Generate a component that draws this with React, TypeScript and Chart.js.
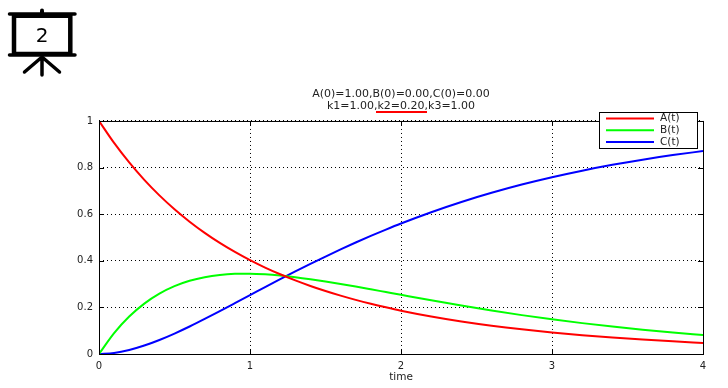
import React, { useEffect, useRef } from "react";
import { Chart, registerables } from "chart.js";

Chart.register(...registerables);

const FONT = "'DejaVu Sans', sans-serif";

const times = [0, 0.1, 0.2, 0.3, 0.4, 0.5, 0.6, 0.7, 0.8, 0.9, 1, 1.1, 1.2, 1.3, 1.4, 1.5, 1.6, 1.7, 1.8, 1.9, 2, 2.2, 2.4, 2.6, 2.8, 3, 3.2, 3.4, 3.6, 3.8, 4];
const seriesA = [1, 0.9057, 0.8219, 0.7473, 0.6807, 0.6212, 0.5679, 0.52, 0.4768, 0.438, 0.4029, 0.371, 0.3422, 0.316, 0.2921, 0.2704, 0.2504, 0.2322, 0.2155, 0.2002, 0.186, 0.1611, 0.1397, 0.1215, 0.1059, 0.0924, 0.0808, 0.0707, 0.0618, 0.0542, 0.0475];
const seriesB = [0, 0.0896, 0.1607, 0.2163, 0.259, 0.291, 0.314, 0.3296, 0.3392, 0.3439, 0.3447, 0.3421, 0.3369, 0.3298, 0.3211, 0.3113, 0.3006, 0.2894, 0.2777, 0.2658, 0.2539, 0.2303, 0.2077, 0.1866, 0.1668, 0.1489, 0.1325, 0.1176, 0.1042, 0.0922, 0.0815];
const seriesC = [0, 0.0047, 0.0174, 0.0364, 0.0603, 0.0878, 0.1181, 0.1504, 0.184, 0.2181, 0.2524, 0.2869, 0.3209, 0.3542, 0.3868, 0.4183, 0.449, 0.4784, 0.5068, 0.534, 0.5601, 0.6086, 0.6526, 0.6919, 0.7273, 0.7587, 0.7867, 0.8117, 0.834, 0.8536, 0.871];
const titleLines = ["A(0)=1.00,B(0)=0.00,C(0)=0.00", "k1=1.00,k2=0.20,k3=1.00"];
const seriesNames = ["A(t)", "B(t)", "C(t)"];
const seriesColors = ["#ff0000", "#00ff00", "#0000ff"];
const xTitle = "time";
const slideNumber = "2";

const frame = {
  id: "frame",
  afterDatasetsDraw(chart: any) {
    const { ctx, chartArea: a, scales } = chart;
    ctx.save();
    ctx.strokeStyle = "#000";
    ctx.lineWidth = 1;
    ctx.strokeRect(a.left + 0.5, a.top + 0.5, a.right - a.left, a.bottom - a.top);
    ctx.beginPath();
    scales.x.ticks.forEach((_: any, i: number) => {
      const x = Math.round(scales.x.getPixelForTick(i)) + 0.5;
      ctx.moveTo(x, a.top);
      ctx.lineTo(x, a.top + 5);
      ctx.moveTo(x, a.bottom);
      ctx.lineTo(x, a.bottom - 5);
    });
    scales.y.ticks.forEach((_: any, i: number) => {
      const y = Math.round(scales.y.getPixelForTick(i)) + 0.5;
      ctx.moveTo(a.left, y);
      ctx.lineTo(a.left + 5, y);
      ctx.moveTo(a.right, y);
      ctx.lineTo(a.right - 5, y);
    });
    ctx.stroke();

    // red underline beneath the k2 term of the title
    ctx.strokeStyle = "#ff0000";
    ctx.lineWidth = 2;
    ctx.beginPath();
    ctx.moveTo(376, 112);
    ctx.lineTo(427, 112);
    ctx.stroke();

    // legend box
    ctx.fillStyle = "#fff";
    ctx.fillRect(599, 112, 99, 36);
    ctx.strokeStyle = "#000";
    ctx.lineWidth = 1;
    ctx.strokeRect(599.5, 112.5, 98, 36);
    ctx.font = `10.5px ${FONT}`;
    ctx.textBaseline = "middle";
    ctx.textAlign = "left";
    chart.data.datasets.forEach((d: any, i: number) => {
      const y = 118.5 + i * 11.7;
      ctx.strokeStyle = d.borderColor;
      ctx.lineWidth = 2;
      ctx.beginPath();
      ctx.moveTo(606, y);
      ctx.lineTo(654, y);
      ctx.stroke();
      ctx.fillStyle = "#222";
      ctx.fillText(d.label, 660, y);
    });
    ctx.restore();
  },
};

export default function App() {
  const ref = useRef<HTMLCanvasElement>(null);
  useEffect(() => {
    document.body.style.margin = "0";
    const all = [seriesA, seriesB, seriesC];
    const chart = new Chart(ref.current!, {
      type: "line",
      data: {
        datasets: all.map((vals, i) => ({
          label: seriesNames[i],
          data: vals.map((v, j) => ({ x: times[j], y: v })),
          borderColor: seriesColors[i],
          borderWidth: 2,
          pointRadius: 0,
          cubicInterpolationMode: "monotone" as const,
          fill: false,
        })),
      },
      options: {
        animation: false,
        responsive: false,
        layout: { padding: { left: 0, right: 25, top: 0, bottom: 0 } },
        plugins: {
          legend: { display: false },
          tooltip: { enabled: false },
          title: {
            display: true,
            text: titleLines,
            color: "#222",
            fullSize: false,
            font: { family: FONT, size: 11, weight: "normal", lineHeight: 1.09 },
            padding: { top: 88, bottom: 9 },
          },
        },
        scales: {
          x: {
            type: "linear",
            min: 0,
            max: 4,
            afterFit(s: any) { s.height = 34; },
            ticks: { stepSize: 1, color: "#222", padding: 6, maxRotation: 0, font: { family: FONT, size: 10 } },
            grid: { color: "#000", drawTicks: false, tickLength: 0 },
            border: { display: false, dash: [1, 3] },
            title: { display: true, text: xTitle, color: "#222", padding: { top: 1, bottom: 4 }, font: { family: FONT, size: 10.5 } },
          },
          y: {
            min: 0,
            max: 1,
            afterFit(s: any) { s.width = 99; },
            ticks: {
              stepSize: 0.2,
              color: "#222",
              padding: 6,
              font: { family: FONT, size: 10 },
              callback: (v: any) => String(Number(Number(v).toFixed(1))),
            },
            grid: { color: "#000", drawTicks: false, tickLength: 0 },
            border: { display: false, dash: [1, 3] },
          },
        },
      },
      plugins: [frame],
    });
    return () => chart.destroy();
  }, []);
  return (
    <div style={{ position: "relative", width: 728, height: 388, background: "#fff" }}>
      <canvas ref={ref} width={728} height={388} style={{ display: "block" }} />
      <svg width={90} height={85} style={{ position: "absolute", left: 0, top: 0 }}>
        <g stroke="#000" strokeLinecap="round" fill="none">
          <path d="M42 10.5V14" strokeWidth={4} />
          <path d="M9.5 14H75" strokeWidth={3.5} />
          <path d="M14 14V55M70.3 14V55" strokeWidth={4.5} strokeLinecap="butt" />
          <path d="M14 16.5H70" strokeWidth={3} strokeLinecap="butt" />
          <path d="M14 53H70" strokeWidth={2.5} strokeLinecap="butt" />
          <path d="M9.5 55H75" strokeWidth={3.5} />
          <path d="M42 57V75M42 57L24.5 72M42 57L59.5 72" strokeWidth={3.5} />
        </g>
        <text x={42} y={42} textAnchor="middle" fontFamily="'DejaVu Sans', sans-serif" fontSize={20} fill="#000">{slideNumber}</text>
      </svg>
    </div>
  );
}
